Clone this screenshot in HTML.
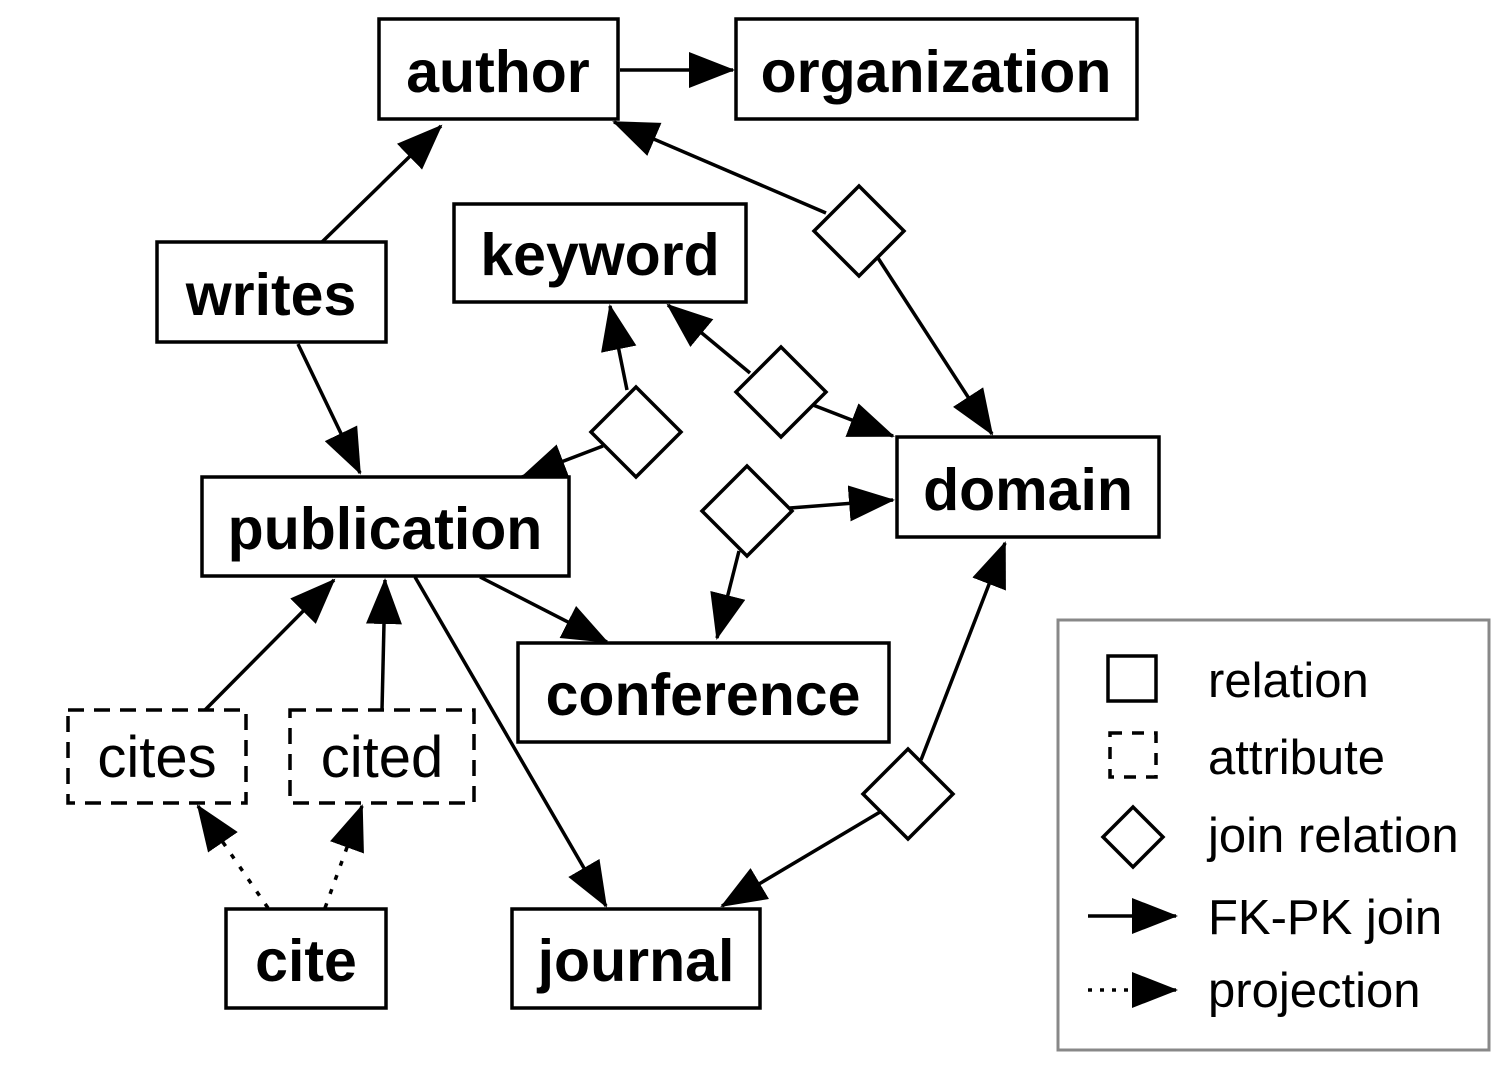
<!DOCTYPE html>
<html><head><meta charset="utf-8"><style>
html,body{margin:0;padding:0;background:#fff;}
svg{display:block;}
text{font-family:"Liberation Sans",Arial,sans-serif;}
.b{font-weight:bold;font-size:59px;}
.r{font-size:58px;}
.l{font-size:49px;}
</style></head><body>
<svg width="1510" height="1080" viewBox="0 0 1510 1080" xmlns="http://www.w3.org/2000/svg">
<defs>
<marker id="ah" markerUnits="userSpaceOnUse" markerWidth="46" markerHeight="36" refX="44" refY="18" orient="auto">
<path d="M0,0 L46,18 L0,36 Z" fill="#000"/>
</marker>
</defs>
<g fill="none" stroke="#000" stroke-width="3.5">
<rect x="379" y="19" width="239" height="100"/>
<rect x="736" y="19" width="401" height="100"/>
<rect x="454" y="204" width="292" height="98"/>
<rect x="157" y="242" width="229" height="100"/>
<rect x="202" y="477" width="367" height="99"/>
<rect x="897" y="437" width="262" height="100"/>
<rect x="518" y="643" width="371" height="99"/>
<rect x="226" y="909" width="160" height="99"/>
<rect x="512" y="909" width="248" height="99"/>
<rect x="68" y="710" width="178" height="93" stroke-dasharray="16,10"/>
<rect x="290" y="710" width="184" height="93" stroke-dasharray="16,10"/>
<path d="M859,186 L904,231 L859,276 L814,231 Z"/>
<path d="M781,347 L826,392 L781,437 L736,392 Z"/>
<path d="M636,387 L681,432 L636,477 L591,432 Z"/>
<path d="M747,466 L792,511 L747,556 L702,511 Z"/>
<path d="M908,749 L953,794 L908,839 L863,794 Z"/>
</g>
<g stroke="#000" stroke-width="3.5" fill="none" marker-end="url(#ah)">
<line x1="620" y1="70" x2="733" y2="70"/>
<line x1="322" y1="242" x2="441" y2="126"/>
<line x1="298" y1="344" x2="360" y2="473"/>
<line x1="826" y1="213" x2="614" y2="122"/>
<line x1="878" y1="258" x2="992" y2="434"/>
<line x1="750" y1="373" x2="668" y2="305"/>
<line x1="813" y1="405" x2="893" y2="436"/>
<line x1="627" y1="390" x2="610" y2="306"/>
<line x1="603" y1="446" x2="522" y2="477"/>
<line x1="790" y1="508" x2="893" y2="500"/>
<line x1="739" y1="551" x2="717" y2="638"/>
<line x1="921" y1="760" x2="1005" y2="543"/>
<line x1="880" y1="812" x2="722" y2="906"/>
<line x1="480" y1="577" x2="607" y2="642"/>
<line x1="415" y1="577" x2="606" y2="906"/>
<line x1="205" y1="710" x2="334" y2="580"/>
<line x1="382" y1="710" x2="385" y2="580"/>
<line x1="268" y1="908" x2="198" y2="806" stroke-dasharray="5,10"/>
<line x1="325" y1="908" x2="362" y2="806" stroke-dasharray="5,10"/>
</g>
<g class="b" text-anchor="middle">
<text x="498" y="92">author</text>
<text x="936" y="92">organization</text>
<text x="600" y="275">keyword</text>
<text x="271" y="315">writes</text>
<text x="385" y="549">publication</text>
<text x="1028" y="510">domain</text>
<text x="703" y="715">conference</text>
<text x="306" y="981">cite</text>
<text x="636" y="981">journal</text>
</g>
<g class="r" text-anchor="middle">
<text x="157" y="777">cites</text>
<text x="382" y="777">cited</text>
</g>
<rect x="1058" y="620" width="431" height="430" fill="none" stroke="#888" stroke-width="3"/>
<g fill="none" stroke="#000" stroke-width="3.5">
<rect x="1108" y="656" width="48" height="45"/>
<rect x="1110" y="733" width="46" height="44" stroke-dasharray="12,10"/>
<path d="M1133,807 L1163,837 L1133,867 L1103,837 Z"/>
<line x1="1088" y1="916" x2="1176" y2="916" marker-end="url(#ah)"/>
<line x1="1088" y1="990" x2="1176" y2="990" stroke-dasharray="4,8" marker-end="url(#ah)"/>
</g>
<g class="l">
<text x="1208" y="697">relation</text>
<text x="1208" y="774">attribute</text>
<text x="1208" y="852">join relation</text>
<text x="1208" y="934">FK-PK join</text>
<text x="1208" y="1007">projection</text>
</g>
</svg>
</body></html>
